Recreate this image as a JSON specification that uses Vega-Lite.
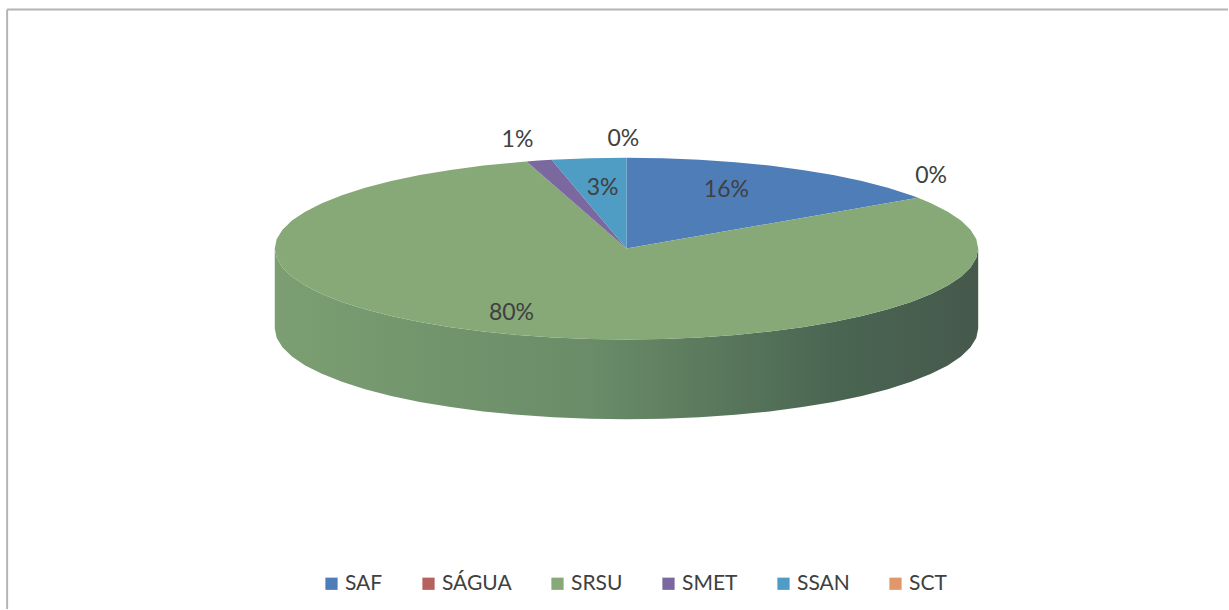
{"$schema":"https://vega.github.io/schema/vega-lite/v6.json","width":1229,"height":610,"autosize":{"type":"fit","contains":"padding"},"padding":0,"background":"#ffffff","view":{"stroke":null},
"datasets":{
"wall":[{"x":1,"y":0,"yb":-0.879},{"x":0.9945,"y":-0.1045,"yb":-0.9835},{"x":0.9781,"y":-0.2079,"yb":-1.0869},{"x":0.9511,"y":-0.309,"yb":-1.188},{"x":0.9135,"y":-0.4067,"yb":-1.2857},{"x":0.866,"y":-0.5,"yb":-1.379},{"x":0.809,"y":-0.5878,"yb":-1.4668},{"x":0.7431,"y":-0.6691,"yb":-1.5481},{"x":0.6691,"y":-0.7431,"yb":-1.6221},{"x":0.5878,"y":-0.809,"yb":-1.688},{"x":0.5,"y":-0.866,"yb":-1.745},{"x":0.4067,"y":-0.9135,"yb":-1.7925},{"x":0.309,"y":-0.9511,"yb":-1.8301},{"x":0.2079,"y":-0.9781,"yb":-1.8571},{"x":0.1045,"y":-0.9945,"yb":-1.8735},{"x":0,"y":-1,"yb":-1.879},{"x":-0.1045,"y":-0.9945,"yb":-1.8735},{"x":-0.2079,"y":-0.9781,"yb":-1.8571},{"x":-0.309,"y":-0.9511,"yb":-1.8301},{"x":-0.4067,"y":-0.9135,"yb":-1.7925},{"x":-0.5,"y":-0.866,"yb":-1.745},{"x":-0.5878,"y":-0.809,"yb":-1.688},{"x":-0.6691,"y":-0.7431,"yb":-1.6221},{"x":-0.7431,"y":-0.6691,"yb":-1.5481},{"x":-0.809,"y":-0.5878,"yb":-1.4668},{"x":-0.866,"y":-0.5,"yb":-1.379},{"x":-0.9135,"y":-0.4067,"yb":-1.2857},{"x":-0.9511,"y":-0.309,"yb":-1.188},{"x":-0.9781,"y":-0.2079,"yb":-1.0869},{"x":-0.9945,"y":-0.1045,"yb":-0.9835},{"x":-1,"y":0,"yb":-0.879}],
"slices":[
{"s":"SAF","i":0,"x":0,"y":0},{"s":"SAF","i":1,"x":0,"y":1},{"s":"SAF","i":2,"x":0.1045,"y":0.9945},{"s":"SAF","i":3,"x":0.2079,"y":0.9781},{"s":"SAF","i":4,"x":0.309,"y":0.9511},{"s":"SAF","i":5,"x":0.4067,"y":0.9135},{"s":"SAF","i":6,"x":0.5,"y":0.866},{"s":"SAF","i":7,"x":0.5878,"y":0.809},{"s":"SAF","i":8,"x":0.6691,"y":0.7431},{"s":"SAF","i":9,"x":0.7431,"y":0.6691},{"s":"SAF","i":10,"x":0.809,"y":0.5878},{"s":"SAF","i":11,"x":0.829,"y":0.5592},
{"s":"SRSU","i":0,"x":0,"y":0},{"s":"SRSU","i":1,"x":0.829,"y":0.5592},{"s":"SRSU","i":2,"x":0.866,"y":0.5},{"s":"SRSU","i":3,"x":0.9135,"y":0.4067},{"s":"SRSU","i":4,"x":0.9511,"y":0.309},{"s":"SRSU","i":5,"x":0.9781,"y":0.2079},{"s":"SRSU","i":6,"x":0.9945,"y":0.1045},{"s":"SRSU","i":7,"x":1,"y":0},{"s":"SRSU","i":8,"x":0.9945,"y":-0.1045},{"s":"SRSU","i":9,"x":0.9781,"y":-0.2079},{"s":"SRSU","i":10,"x":0.9511,"y":-0.309},{"s":"SRSU","i":11,"x":0.9135,"y":-0.4067},{"s":"SRSU","i":12,"x":0.866,"y":-0.5},{"s":"SRSU","i":13,"x":0.809,"y":-0.5878},{"s":"SRSU","i":14,"x":0.7431,"y":-0.6691},{"s":"SRSU","i":15,"x":0.6691,"y":-0.7431},{"s":"SRSU","i":16,"x":0.5878,"y":-0.809},{"s":"SRSU","i":17,"x":0.5,"y":-0.866},{"s":"SRSU","i":18,"x":0.4067,"y":-0.9135},{"s":"SRSU","i":19,"x":0.309,"y":-0.9511},{"s":"SRSU","i":20,"x":0.2079,"y":-0.9781},{"s":"SRSU","i":21,"x":0.1045,"y":-0.9945},{"s":"SRSU","i":22,"x":0,"y":-1},{"s":"SRSU","i":23,"x":-0.1045,"y":-0.9945},{"s":"SRSU","i":24,"x":-0.2079,"y":-0.9781},{"s":"SRSU","i":25,"x":-0.309,"y":-0.9511},{"s":"SRSU","i":26,"x":-0.4067,"y":-0.9135},{"s":"SRSU","i":27,"x":-0.5,"y":-0.866},{"s":"SRSU","i":28,"x":-0.5878,"y":-0.809},{"s":"SRSU","i":29,"x":-0.6691,"y":-0.7431},{"s":"SRSU","i":30,"x":-0.7431,"y":-0.6691},{"s":"SRSU","i":31,"x":-0.809,"y":-0.5878},{"s":"SRSU","i":32,"x":-0.866,"y":-0.5},{"s":"SRSU","i":33,"x":-0.9135,"y":-0.4067},{"s":"SRSU","i":34,"x":-0.9511,"y":-0.309},{"s":"SRSU","i":35,"x":-0.9781,"y":-0.2079},{"s":"SRSU","i":36,"x":-0.9945,"y":-0.1045},{"s":"SRSU","i":37,"x":-1,"y":0},{"s":"SRSU","i":38,"x":-0.9945,"y":0.1045},{"s":"SRSU","i":39,"x":-0.9781,"y":0.2079},{"s":"SRSU","i":40,"x":-0.9511,"y":0.309},{"s":"SRSU","i":41,"x":-0.9135,"y":0.4067},{"s":"SRSU","i":42,"x":-0.866,"y":0.5},{"s":"SRSU","i":43,"x":-0.809,"y":0.5878},{"s":"SRSU","i":44,"x":-0.7431,"y":0.6691},{"s":"SRSU","i":45,"x":-0.6691,"y":0.7431},{"s":"SRSU","i":46,"x":-0.5878,"y":0.809},{"s":"SRSU","i":47,"x":-0.5,"y":0.866},{"s":"SRSU","i":48,"x":-0.4067,"y":0.9135},{"s":"SRSU","i":49,"x":-0.309,"y":0.9511},{"s":"SRSU","i":50,"x":-0.284,"y":0.9588},
{"s":"SMET","i":0,"x":0,"y":0},{"s":"SMET","i":1,"x":-0.284,"y":0.9588},{"s":"SMET","i":2,"x":-0.25,"y":0.9682},{"s":"SMET","i":3,"x":-0.213,"y":0.977},
{"s":"SSAN","i":0,"x":0,"y":0},{"s":"SSAN","i":1,"x":-0.213,"y":0.977},{"s":"SSAN","i":2,"x":-0.1045,"y":0.9945},{"s":"SSAN","i":3,"x":0,"y":1}
],
"labels":[{"t":"16%","x":0.284,"y":0.64},{"t":"80%","x":-0.327,"y":-0.71},{"t":"3%","x":-0.068,"y":0.67},{"t":"1%","x":-0.31,"y":1.198},{"t":"0%","x":-0.009,"y":1.209},{"t":"0%","x":0.866,"y":0.802}],
"frame":[{"x":-1.761,"x2":1.7102,"y":2.632,"y2":2.632},{"x":-1.761,"x2":-1.761,"y":2.632,"y2":-3.967}]
},
"layer":[
{"data":{"name":"frame"},"mark":{"type":"rule","color":"#b4b4b4","strokeWidth":2},"encoding":{"x":{"field":"x","type":"quantitative","scale":{"domain":[-1.78125,1.71023],"nice":false,"zero":false},"axis":null},"x2":{"field":"x2"},"y":{"field":"y","type":"quantitative","scale":{"domain":[-3.967,2.736],"nice":false,"zero":false},"axis":null},"y2":{"field":"y2"}}},
{"data":{"name":"wall"},"mark":{"type":"area","fill":{"gradient":"linear","x1":0,"x2":1,"y1":0,"y2":0,"stops":[{"offset":0,"color":"#7c9e72"},{"offset":0.45,"color":"#6a8c68"},{"offset":0.8,"color":"#4a6552"},{"offset":1,"color":"#46594c"}]}},"encoding":{"x":{"field":"x","type":"quantitative","axis":null},"y":{"field":"y","type":"quantitative","axis":null},"y2":{"field":"yb"}}},
{"data":{"name":"slices"},"mark":{"type":"line","interpolate":"linear-closed","strokeWidth":0},"encoding":{"x":{"field":"x","type":"quantitative","axis":null},"y":{"field":"y","type":"quantitative","axis":null},"order":{"field":"i"},"detail":{"field":"s"},"fill":{"field":"s","type":"nominal","scale":{"domain":["SAF","SÁGUA","SRSU","SMET","SSAN","SCT"],"range":["#4f7db8","#b5625f","#86a977","#7a689f","#4f9cc4","#e0976a"]},"legend":{"title":null,"orient":"none","legendX":321,"legendY":573,"direction":"horizontal","columns":6,"symbolType":"square","symbolSize":150,"symbolStrokeWidth":0,"labelFont":"Lato","labelFontSize":21,"labelColor":"#404040","columnPadding":35,"labelOffset":3,"symbolOpacity":1}}}},
{"data":{"name":"labels"},"mark":{"type":"text","font":"Lato","fontSize":23,"color":"#404040"},"encoding":{"x":{"field":"x","type":"quantitative","axis":null},"y":{"field":"y","type":"quantitative","axis":null},"text":{"field":"t"}}}
]}
